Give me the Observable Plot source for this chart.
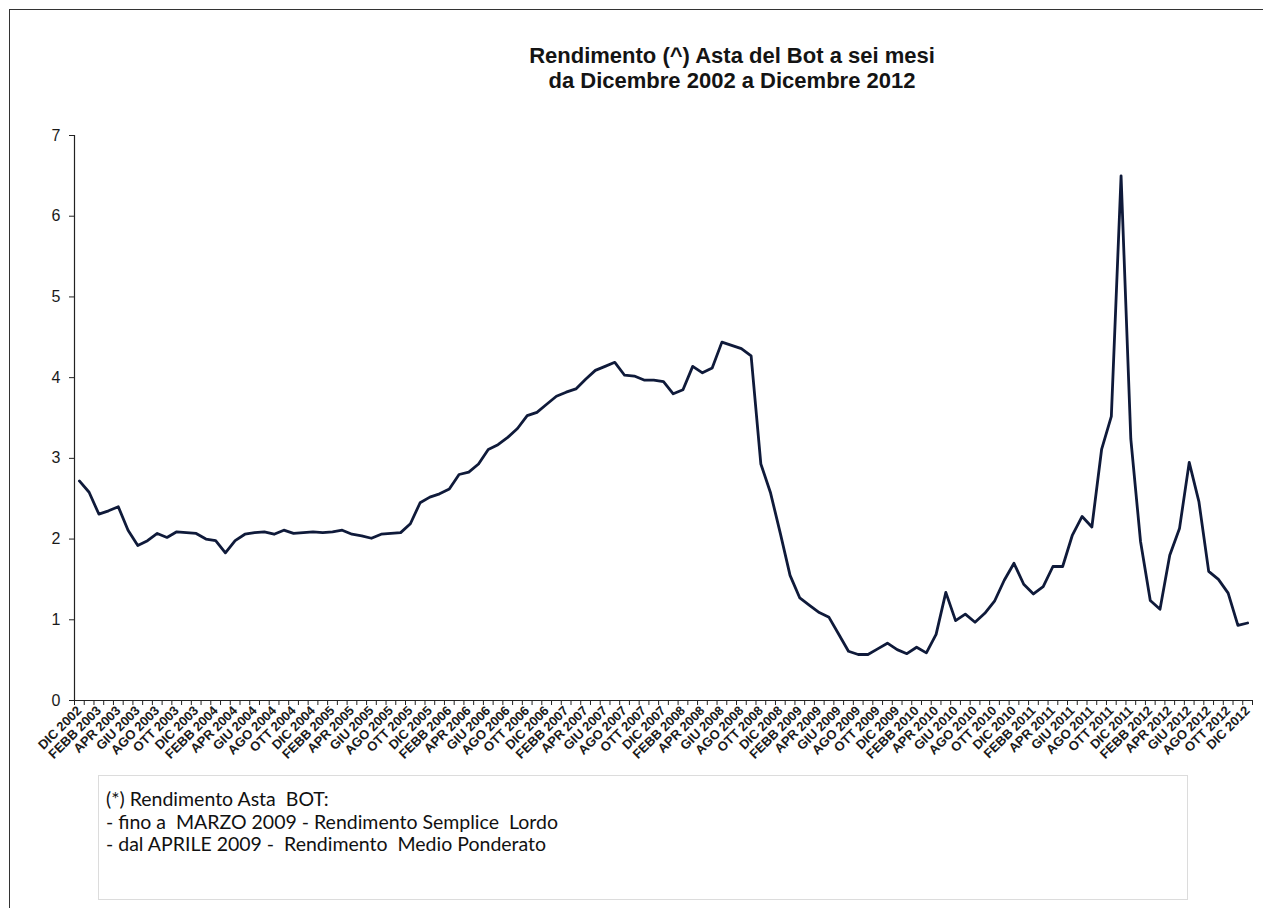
<!DOCTYPE html>
<html>
<head>
<meta charset="utf-8">
<script src="https://cdn.jsdelivr.net/npm/d3@7"></script>
<script src="https://cdn.jsdelivr.net/npm/@observablehq/plot@0.6"></script>
<style>
  html, body { margin: 0; padding: 0; background: #fff; }
  #wrap { position: relative; width: 1263px; height: 908px; overflow: hidden; background: #fff; }
  #frame { position: absolute; left: 9px; top: 9px; width: 1262px; height: 906px; border: 1.5px solid #333; box-sizing: border-box; }
  #title { position: absolute; left: 397px; width: 670px; top: 43px; text-align: center;
           font-family: Arial, "Liberation Sans", sans-serif; font-weight: bold; font-size: 22px; line-height: 25px; color: #141414; }
  #chart { position: absolute; left: 0; top: 110px; }
  #note { position: absolute; left: 98px; top: 775px; width: 1090px; height: 125px; border: 1px solid #dcdcdc; box-sizing: border-box;
          font-family: Lato, "Open Sans", sans-serif; font-size: 19.5px; line-height: 22.5px; color: #111; padding: 12px 0 0 7px; }
</style>
</head>
<body>
<div id="wrap">
  <div id="frame"></div>
  <div id="title">Rendimento (^) Asta del Bot a sei mesi<br>da Dicembre 2002 a Dicembre 2012</div>
  <div id="chart"></div>
  <div id="note">(*) Rendimento Asta&nbsp; BOT:<br>- fino a&nbsp; MARZO 2009 - Rendimento Semplice&nbsp; Lordo<br>- dal APRILE 2009 -&nbsp; Rendimento&nbsp; Medio Ponderato</div>
</div>
<script>
// Tick labels (every other month, from DIC 2002 to DIC 2012)
const tickLabels = [
  "DIC 2002",
  "FEBB 2003","APR 2003","GIU 2003","AGO 2003","OTT 2003","DIC 2003",
  "FEBB 2004","APR 2004","GIU 2004","AGO 2004","OTT 2004","DIC 2004",
  "FEBB 2005","APR 2005","GIU 2005","AGO 2005","OTT 2005","DIC 2005",
  "FEBB 2006","APR 2006","GIU 2006","AGO 2006","OTT 2006","DIC 2006",
  "FEBB 2007","APR 2007","GIU 2007","AGO 2007","OTT 2007","DIC 2007",
  "FEBB 2008","APR 2008","GIU 2008","AGO 2008","OTT 2008","DIC 2008",
  "FEBB 2009","APR 2009","GIU 2009","AGO 2009","OTT 2009","DIC 2009",
  "FEBB 2010","APR 2010","GIU 2010","AGO 2010","OTT 2010","DIC 2010",
  "FEBB 2011","APR 2011","GIU 2011","AGO 2011","OTT 2011","DIC 2011",
  "FEBB 2012","APR 2012","GIU 2012","AGO 2012","OTT 2012","DIC 2012"
];

// Monthly yield (%) of the six-month BOT auction, Dec 2002 .. Dec 2012
const values = [
  2.72, 2.58, 2.31, 2.35, 2.40, 2.11, 1.92, 1.98, 2.07, 2.02, 2.09, 2.08,
  2.07, 2.00, 1.98, 1.83, 1.98, 2.06, 2.08, 2.09, 2.06, 2.11, 2.07, 2.08,
  2.09, 2.08, 2.09, 2.11, 2.06, 2.04, 2.01, 2.06, 2.07, 2.08, 2.19, 2.45,
  2.52, 2.56, 2.62, 2.80, 2.83, 2.93, 3.11, 3.17, 3.26, 3.37, 3.53, 3.57,
  3.67, 3.77, 3.82, 3.86, 3.98, 4.09, 4.14, 4.19, 4.03, 4.02, 3.97, 3.97,
  3.95, 3.80, 3.85, 4.14, 4.06, 4.12, 4.44, 4.40, 4.36, 4.27, 2.93, 2.57,
  2.07, 1.55, 1.27, 1.18, 1.09, 1.03, 0.82, 0.61, 0.57, 0.57, 0.64, 0.71,
  0.63, 0.58, 0.66, 0.59, 0.82, 1.34, 0.99, 1.07, 0.97, 1.08, 1.23, 1.49,
  1.70, 1.44, 1.32, 1.41, 1.66, 1.66, 2.05, 2.28, 2.15, 3.11, 3.52, 6.50,
  3.24, 1.97, 1.24, 1.13, 1.80, 2.13, 2.95, 2.46, 1.60, 1.50, 1.33, 0.93,
  0.96
];

const yTicks = [0, 1, 2, 3, 4, 5, 6, 7];

const data = values.map((v, i) => ({i, v}));
const n = values.length;
const bandEdges = d3.range(n + 1).map(k => k - 0.5);
const labelPos = tickLabels.map((_, k) => k * 2);

const chart = Plot.plot({
  width: 1263,
  height: 660,
  marginLeft: 74,
  marginRight: 11,
  marginTop: 25,
  marginBottom: 70,
  style: {fontFamily: "Arial, 'Liberation Sans', sans-serif", color: "#1a1a1a", background: "transparent", overflow: "visible"},
  x: {type: "linear", domain: [-0.5, n - 0.5]},
  y: {domain: [0, 7]},
  marks: [
    Plot.ruleX([-0.5], {stroke: "#222", strokeWidth: 1.2}),
    Plot.ruleY([0], {stroke: "#222", strokeWidth: 1.2}),
    Plot.axisY({ticks: yTicks, tickSize: 5, tickPadding: 9, fontSize: 16, tickFormat: d => String(d), label: null, stroke: "#222"}),
    Plot.axisX({ticks: bandEdges, tickSize: 5, tickFormat: () => "", label: null, stroke: "#222"}),
    Plot.axisX({ticks: labelPos, tickSize: 0, tickPadding: 8, tickRotate: -45, textAnchor: "end",
                fontSize: 13, fontWeight: "bold", tickFormat: i => tickLabels[i / 2], label: null}),
    Plot.line(data, {x: "i", y: "v", stroke: "#0f1a3a", strokeWidth: 2.8, strokeLinejoin: "round"})
  ]
});
document.getElementById("chart").appendChild(chart);
</script>
</body>
</html>
